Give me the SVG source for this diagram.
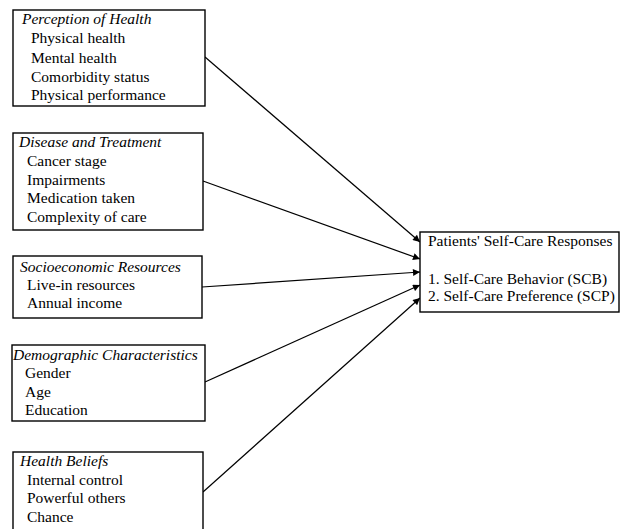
<svg xmlns="http://www.w3.org/2000/svg" width="621" height="529" viewBox="0 0 621 529">
  <style>
    text { font-family: "Liberation Serif", "Times New Roman", serif; font-size: 15.5px; fill: #000; }
    .t { font-style: italic; }
    .box { fill: #fff; stroke: #000; stroke-width: 1.4; }
    .conn { stroke: #000; stroke-width: 1.2; fill: none; marker-end: url(#ah); }
  </style>
  <defs>
    <marker id="ah" viewBox="0 0 10 10" refX="10" refY="5" markerWidth="9" markerHeight="7" markerUnits="userSpaceOnUse" orient="auto">
      <path d="M0,0 L10,5 L0,10 z" fill="#000"/>
    </marker>
  </defs>
  <rect width="621" height="529" fill="#fff"/>

  <g id="connectors">
    <line class="conn" x1="205" y1="57" x2="420" y2="242"/>
    <line class="conn" x1="203" y1="181" x2="420" y2="259"/>
    <line class="conn" x1="202" y1="287" x2="420" y2="272"/>
    <line class="conn" x1="205" y1="382" x2="420" y2="285"/>
    <line class="conn" x1="203" y1="492" x2="420" y2="298"/>
  </g>

  <g id="perception">
    <rect class="box" x="13" y="10" width="192" height="96"/>
    <text class="t" x="22" y="24">Perception of Health</text>
    <text x="31" y="43">Physical health</text>
    <text x="31" y="63">Mental health</text>
    <text x="31" y="82">Comorbidity status</text>
    <text x="31" y="100">Physical performance</text>
  </g>

  <g id="disease">
    <rect class="box" x="13" y="133" width="190" height="97"/>
    <text class="t" x="19" y="147">Disease and Treatment</text>
    <text x="27" y="166">Cancer stage</text>
    <text x="27" y="185">Impairments</text>
    <text x="27" y="203">Medication taken</text>
    <text x="27" y="222">Complexity of care</text>
  </g>

  <g id="socioeconomic">
    <rect class="box" x="13" y="256" width="189" height="62"/>
    <text class="t" x="20" y="272">Socioeconomic Resources</text>
    <text x="27" y="290">Live-in resources</text>
    <text x="27" y="308">Annual income</text>
  </g>

  <g id="demographic">
    <rect class="box" x="12" y="345" width="193" height="76"/>
    <text class="t" x="13" y="360">Demographic Characteristics</text>
    <text x="25" y="378">Gender</text>
    <text x="25" y="397">Age</text>
    <text x="25" y="415">Education</text>
  </g>

  <g id="beliefs">
    <rect class="box" x="13" y="452" width="190" height="90"/>
    <text class="t" x="20" y="466">Health Beliefs</text>
    <text x="27" y="485">Internal control</text>
    <text x="27" y="503">Powerful others</text>
    <text x="27" y="522">Chance</text>
  </g>

  <g id="responses">
    <rect class="box" x="420" y="232" width="199" height="80"/>
    <text x="428" y="246">Patients' Self-Care Responses</text>
    <text x="428" y="284">1. Self-Care Behavior (SCB)</text>
    <text x="428" y="301">2. Self-Care Preference (SCP)</text>
  </g>
</svg>
